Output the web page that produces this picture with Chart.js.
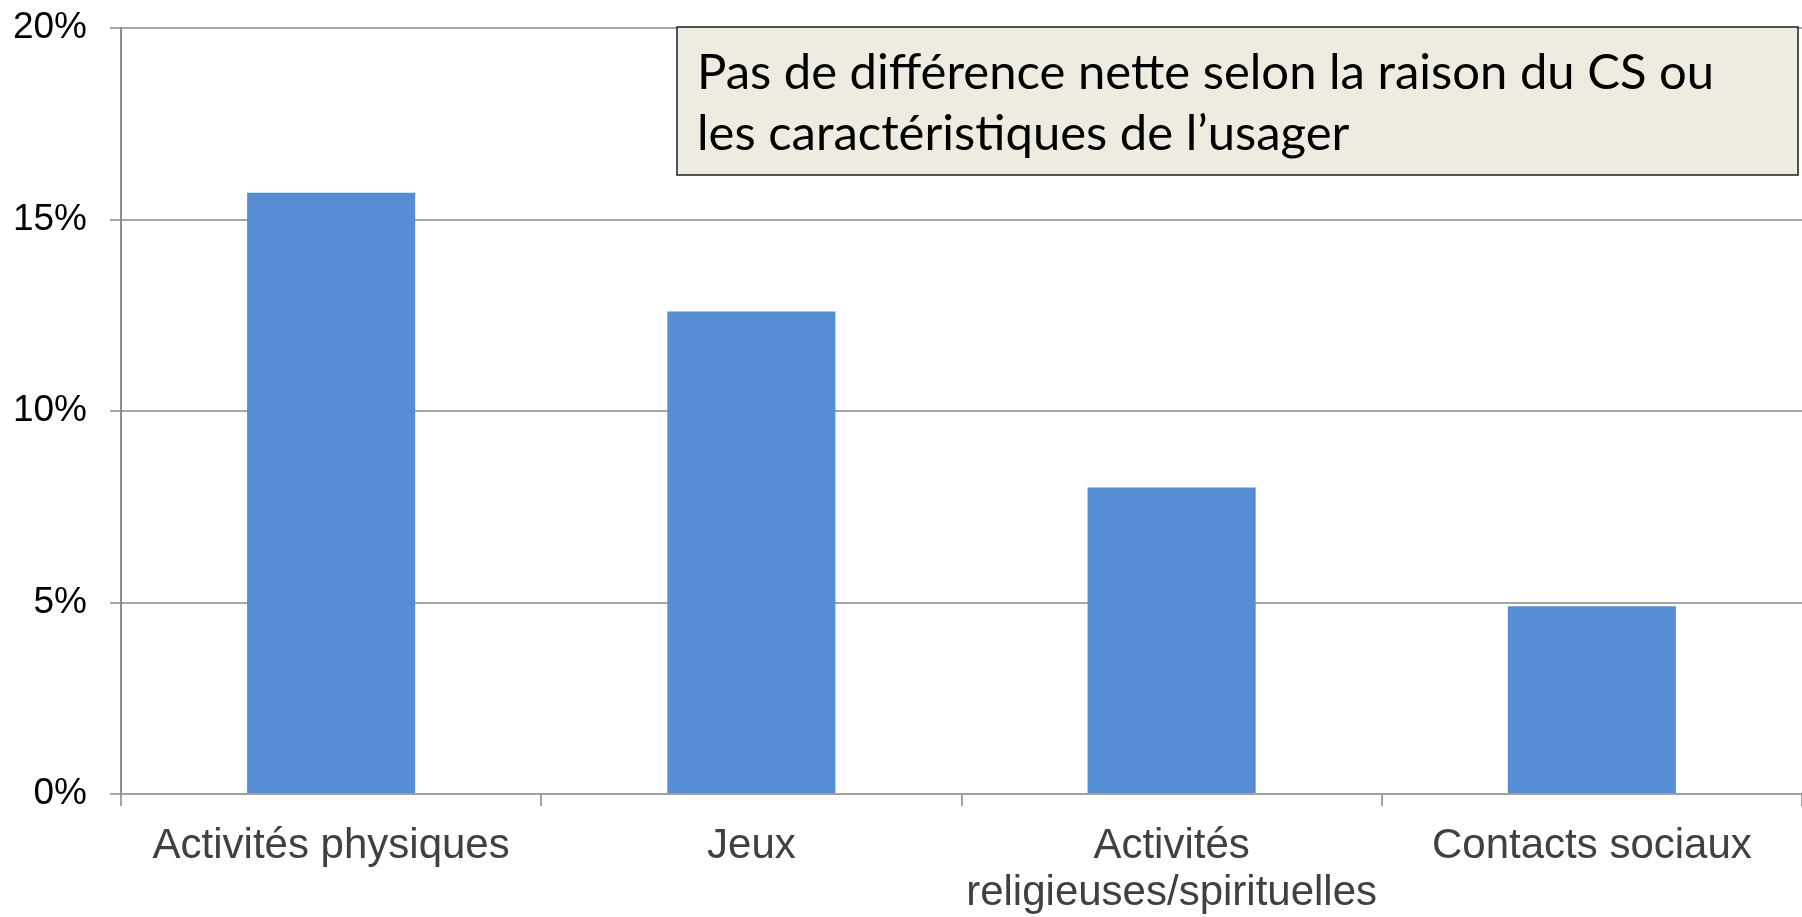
<!DOCTYPE html>
<html lang="fr">
<head>
<meta charset="utf-8">
<title>Activités</title>
<script src="https://cdn.jsdelivr.net/npm/chart.js@4.4.1/dist/chart.umd.min.js"></script>
<style>
  html, body { margin: 0; padding: 0; background: #fff; }
  #wrap { position: relative; width: 1802px; height: 917px; }
</style>
</head>
<body>
<div id="wrap"><canvas id="chart"></canvas></div>
<script>
// données
const categories = ['Activités physiques', 'Jeux', ['Activités', 'religieuses/spirituelles'], 'Contacts sociaux'];
const values = [15.7, 12.6, 8.0, 4.9];
const yMin = 0;
const yMax = 20;
const yStep = 5;
const noteLines = ['Pas de différence nette selon la raison du CS ou', 'les caractéristiques de l\u2019usager'];

// encadré de commentaire en haut à droite
const noteBox = {
    id: 'noteBox',
    afterDraw(chart) {
        const { ctx, chartArea } = chart;
        const w = 1121, h = 148;
        const x = chartArea.right - w - 4;
        const y = chartArea.top - 1;
        ctx.save();
        ctx.fillStyle = '#eeece1';
        ctx.fillRect(x, y, w, h);
        ctx.strokeStyle = '#1f1f1f';
        ctx.lineWidth = 1.5;
        ctx.strokeRect(x, y, w, h);
        ctx.fillStyle = '#000';
        ctx.font = '49px Lato';
        ctx.textBaseline = 'alphabetic';
        noteLines.forEach((line, i) => ctx.fillText(line, x + 20, y + 62 + i * 61));
        ctx.restore();
    }
};

const ctx = document.getElementById('chart').getContext('2d');
new Chart(ctx, {
    type: 'bar',
    data: {
        labels: categories,
        datasets: [{
            data: values,
            backgroundColor: '#558ed5',
            borderWidth: 0,
            categoryPercentage: 1,
            barPercentage: 0.4
        }]
    },
    options: {
        responsive: true,
        maintainAspectRatio: false,
        animation: false,
        layout: {
            padding: { top: 28, right: 0, bottom: 0, left: 0 }
        },
        plugins: {
            legend: { display: false },
            tooltip: { enabled: false }
        },
        scales: {
            x: {
                afterFit(scale) {
                    scale.height = 123;
                    scale.paddingLeft = 0;
                    scale.paddingRight = 0;
                },
                grid: {
                    drawOnChartArea: false,
                    drawTicks: true,
                    tickLength: 12,
                    color: '#a0a0a0',
                    lineWidth: 2
                },
                border: { color: '#a0a0a0', width: 2 },
                ticks: {
                    color: '#404040',
                    font: { family: 'Liberation Sans', size: 42, lineHeight: 1.12 },
                    padding: 17,
                    maxRotation: 0,
                    autoSkip: false
                }
            },
            y: {
                min: yMin,
                max: yMax,
                afterFit(scale) {
                    scale.width = 121;
                    scale.paddingTop = 0;
                    scale.paddingBottom = 0;
                },
                grid: {
                    color: '#a6a6a6',
                    lineWidth: 2,
                    tickLength: 11
                },
                border: { color: '#8c8c8c', width: 2 },
                ticks: {
                    stepSize: yStep,
                    color: '#000',
                    font: { family: 'Liberation Sans', size: 37 },
                    padding: 23,
                    callback: v => v + '%'
                }
            }
        }
    },
    plugins: [noteBox]
});
</script>
</body>
</html>
